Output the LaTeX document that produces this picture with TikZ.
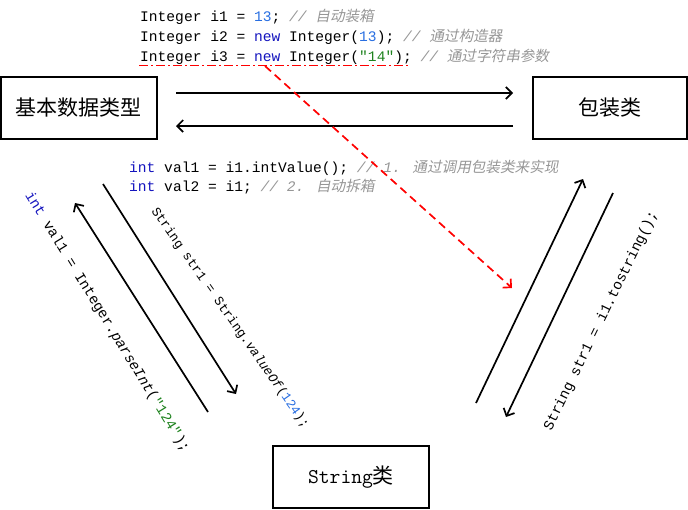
\documentclass[tikz,border=0pt]{standalone}
\usepackage{fontspec}
\usetikzlibrary{arrows.meta}
\newfontfamily\codefont{Liberation Mono}
\newfontfamily\cjkfont{Noto Sans CJK SC}
\newfontfamily\cjkslant[FakeSlant=0.2]{Noto Sans CJK SC}
\definecolor{kw}{RGB}{20,20,190}
\definecolor{num}{RGB}{40,110,225}
\definecolor{strc}{RGB}{30,130,30}
\definecolor{cmt}{RGB}{150,150,150}
\newcommand{\cmtx}[1]{{\color{cmt}\itshape #1}}
\newcommand{\cjit}[1]{{\cjkslant #1}}
\begin{document}
\begin{tikzpicture}[x=1pt,y=-1pt,
  box/.style={draw, line width=1.8pt, minimum width=156pt, minimum height=62pt, inner sep=0pt},
  boxlabel/.style={font=\fontsize{21}{24}\selectfont},
  code/.style={anchor=base west, inner sep=0pt, font=\codefont\fontsize{14.6}{17}\selectfont},
  rcode/.style={inner sep=0pt, font=\codefont\fontsize{14.4}{17}\selectfont},
  conn/.style={line width=1.7pt, -{Straight Barb[length=6pt,width=12pt]}},
  redarrow/.style={red, line width=1.7pt, dash pattern=on 8pt off 5pt, -{Straight Barb[length=6pt,width=12pt]}},
  redline/.style={red, line width=1.7pt, dash pattern=on 9pt off 3pt on 2pt off 3pt}]
\useasboundingbox (0,0) rectangle (688,509);
% boxes
\node[box, boxlabel] (basic) at (79,108) {\cjkfont 基本数据类型};
\node[box, boxlabel, minimum width=154pt] (wrap) at (610,108) {\cjkfont 包装类};
\node[box, boxlabel] (strbox) at (351,477) {\ttfamily String\cjkfont 类};
% top code
\node[code] (c1) at (140,21.3) {Integer i1 = \textcolor{num}{13}; \cmtx{// \cjit{自动装箱}}};
\node[code] (c2) at (140,41.3) {Integer i2 = \textcolor{kw}{new} Integer(\textcolor{num}{13}); \cmtx{// \cjit{通过构造器}}};
\node[code] (c3) at (140,61) {Integer i3 = \textcolor{kw}{new} Integer(\textcolor{strc}{"14"}); \cmtx{// \cjit{通过字符串参数}}};
% middle code
\node[code] (m1) at (129,172.3) {\textcolor{kw}{int} val1 = i1.intValue(); \cmtx{// 1. \cjit{通过调用包装类来实现}}};
\node[code] (m2) at (129,191.7) {\textcolor{kw}{int} val2 = i1; \cmtx{// 2. \cjit{自动拆箱}}};
% rotated labels
\node[rcode, rotate=-58.5] (t1) at (107,322) {\textcolor{kw}{int} val1 = Integer.\textit{parseInt}(\textcolor{strc}{"124"});};
\node[rcode, rotate=-55, font=\codefont\fontsize{13}{15}\selectfont] (t2) at (230,318) {String str1 = String.\textit{valueOf}(\textcolor{num}{124});};
\node[rcode, rotate=64] (t3) at (601,321) {String str1 = i1.tostring();};
% connector end points
\coordinate (h1s) at (176,93);  \coordinate (h1e) at (513,93);
\coordinate (h2s) at (513,126); \coordinate (h2e) at (176,126);
\coordinate (la) at (208,412);  \coordinate (lb) at (75,203);
\coordinate (lc) at (103,184);  \coordinate (ld) at (236,394);
\coordinate (ra) at (476,403);  \coordinate (rb) at (583,179);
\coordinate (rc) at (613,193);  \coordinate (rd) at (506,417);
\coordinate (u1) at (139,65.5); \coordinate (u2) at (408,65.5);
\coordinate (rs) at (265,66);   \coordinate (re) at (512,288);
% connectors
\draw[conn] (h1s) -- (h1e);
\draw[conn] (h2s) -- (h2e);
\draw[conn] (la) -- (lb);
\draw[conn] (lc) -- (ld);
\draw[conn] (ra) -- (rb);
\draw[conn] (rc) -- (rd);
\draw[redline] (u1) -- (u2);
\draw[redarrow] (rs) -- (re);
\end{tikzpicture}
\end{document}
